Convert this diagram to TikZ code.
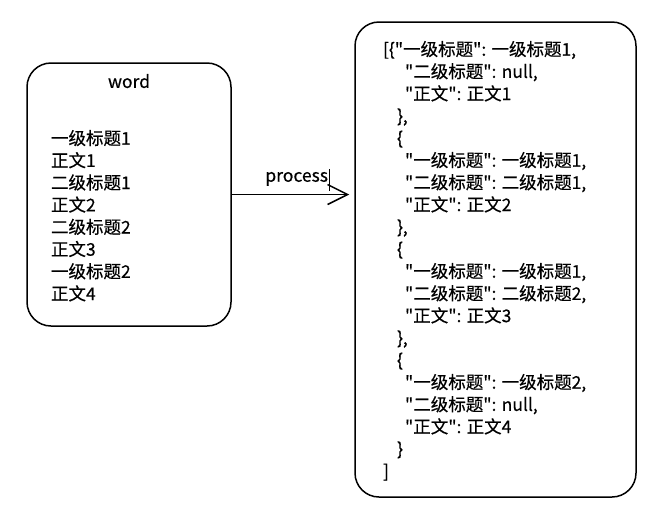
\documentclass[tikz,border=0pt]{standalone}
\usepackage{fontspec}
\setmainfont{Noto Sans CJK SC}[Ligatures=TeXOff,FakeBold=0.5]
\usetikzlibrary{positioning,arrows.meta}

\begin{document}
\begin{tikzpicture}[x=1pt,y=-1pt,line width=1.5pt,
      box/.style={draw,rounded corners=24pt},
      body/.style={font=\fontsize{17.5}{22.2}\selectfont,align=left,inner sep=0pt},
      flow/.style={-{Straight Barb[length=20pt,width=20pt]},shorten >=5pt}]
      \useasboundingbox (0,0) rectangle (658,523);
      \node[box,minimum width=204pt,minimum height=263pt] (word) at (129,194.5) {};
      \node[box,minimum width=281pt,minimum height=475pt] (json) at (495.5,259.5) {};
      \node[body] (title) [below=11pt of word.north] {word};
      \node[body] (doc) [below right=67pt and 24pt of word.north west]
        {一级标题1\\正文1\\二级标题1\\正文2\\二级标题2\\正文3\\一级标题2\\正文4};
      \node[body] (result) [below right=19pt and 28pt of json.north west]
        {{[}\{"一级标题": 一级标题1,\\
         \hspace*{22pt}"二级标题": null,\\
         \hspace*{22pt}"正文": 正文1\\
         \hspace*{14pt}\},\\
         \hspace*{14pt}\{\\
         \hspace*{22pt}"一级标题": 一级标题1,\\
         \hspace*{22pt}"二级标题": 二级标题1,\\
         \hspace*{22pt}"正文": 正文2\\
         \hspace*{14pt}\},\\
         \hspace*{14pt}\{\\
         \hspace*{22pt}"一级标题": 一级标题1,\\
         \hspace*{22pt}"二级标题": 二级标题2,\\
         \hspace*{22pt}"正文": 正文3\\
         \hspace*{14pt}\},\\
         \hspace*{14pt}\{\\
         \hspace*{22pt}"一级标题": 一级标题2,\\
         \hspace*{22pt}"二级标题": null,\\
         \hspace*{22pt}"正文": 正文4\\
         \hspace*{14pt}\}\\
         {]}};

      \draw[flow] (word.east) -- node[body,above=8pt,pos=0.53] (step) {process}
        (word.east -| json.west);
      % text cursor after the label
      \draw[line width=0.8pt] ([xshift=1pt,yshift=2pt]step.north east) -- ([xshift=1pt,yshift=-4pt]step.south east);
\end{tikzpicture}
\end{document}
